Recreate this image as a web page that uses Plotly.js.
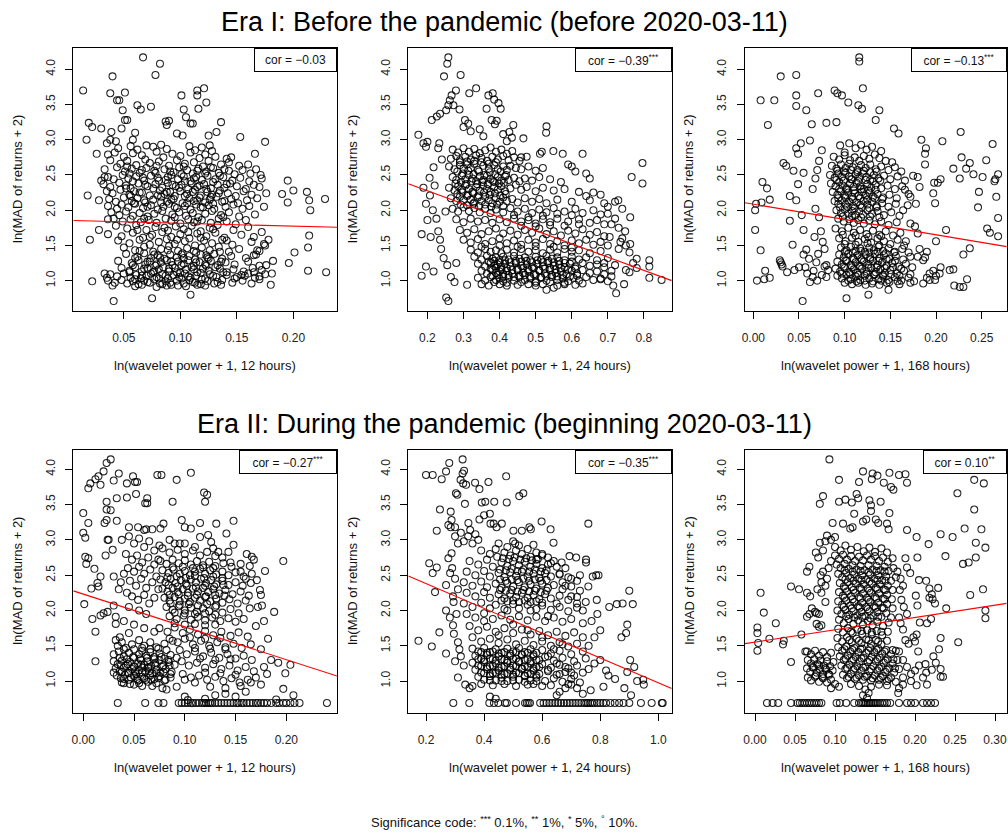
<!DOCTYPE html>
<html><head><meta charset="utf-8">
<script src="https://cdn.plot.ly/plotly-3.0.1.min.js"></script>
<style>body{margin:0;background:#fff}#chart{width:1008px;height:840px}</style>
</head><body><div id="chart"></div>
<script>
// ---------- DATA ----------
const panelTitles = ["Era I: Before the pandemic (before 2020-03-11)", "Era II: During the pandemic (beginning 2020-03-11)"];
const xTitles = ["ln(wavelet power + 1, 12 hours)", "ln(wavelet power + 1, 24 hours)", "ln(wavelet power + 1, 168 hours)",
                 "ln(wavelet power + 1, 12 hours)", "ln(wavelet power + 1, 24 hours)", "ln(wavelet power + 1, 168 hours)"];
const yTitle = "ln(MAD of returns + 2)";
const corLabels = ["cor = \u22120.03", "cor = \u22120.39<sup>***</sup>", "cor = \u22120.13<sup>***</sup>",
                   "cor = \u22120.27<sup>***</sup>", "cor = \u22120.35<sup>***</sup>", "cor = 0.10<sup>**</sup>"];
const fitIntercept = [1.855, 2.653, 2.085, 2.232, 2.731, 1.552];
const fitSlope = [-0.407, -1.885, -2.17, -4.644, -1.756, 1.743];
const xTicks = [[0.05,0.10,0.15,0.20],[0.2,0.3,0.4,0.5,0.6,0.7,0.8],[0,0.05,0.10,0.15,0.20,0.25],
                [0,0.05,0.10,0.15,0.20],[0.2,0.4,0.6,0.8,1.0],[0,0.05,0.10,0.15,0.20,0.25,0.30]];
const yTicks = [1.0,1.5,2.0,2.5,3.0,3.5,4.0];
const sigNote = "Significance code: <sup>***</sup> 0.1%, <sup>**</sup> 1%, <sup>*</sup> 5%, <sup>\u00b0</sup> 10%.";

const e1_12h = [[0.014,3.70],[0.067,4.17],[0.082,4.08],[0.040,3.90],[0.078,3.92],[0.038,3.66],[0.051,3.67],[0.044,3.56],[0.046,3.56],[0.101,3.63],[0.115,3.63],[0.121,3.73],[0.115,3.70],[0.123,3.53],[0.116,3.44],[0.103,3.43],[0.105,3.32],[0.109,3.23],[0.111,3.23],[0.062,3.49],[0.065,3.43],[0.074,3.47],[0.049,3.42],[0.017,3.00],[0.019,3.24],[0.022,3.18],[0.030,3.16],[0.039,3.11],[0.048,3.16],[0.051,3.28],[0.053,3.28],[0.087,3.26],[0.090,3.27],[0.088,3.21],[0.097,3.09],[0.102,3.06],[0.136,3.25],[0.132,3.11],[0.125,3.06],[0.126,2.92],[0.153,3.04],[0.175,2.97],[0.166,2.80],[0.190,2.23],[0.195,2.42],[0.200,2.28],[0.195,2.11],[0.212,2.26],[0.214,2.14],[0.215,2.00],[0.228,2.16],[0.214,1.64],[0.213,1.47],[0.201,1.40],[0.196,1.25],[0.213,1.14],[0.229,1.12],[0.182,1.28],[0.181,1.10],[0.180,0.94],[0.176,1.22],[0.041,0.71],[0.075,0.75],[0.109,0.80],[0.022,0.99],[0.020,1.58],[0.018,2.21],
[0.026,2.80],[0.030,2.42],[0.033,2.47],[0.028,2.14],[0.035,2.95],[0.043,2.98],[0.038,3.00],[0.058,3.00],[0.060,3.10],[0.070,2.92],[0.145,2.75],[0.160,2.65],[0.171,2.50],[0.170,2.33],[0.176,2.24],[0.174,2.05],[0.172,1.69],[0.178,1.58],[0.175,1.50],[0.170,1.42],[0.165,1.36],[0.033,1.10],[0.035,1.04],[0.028,1.72],[0.036,1.87],
[0.045,2.88],[0.056,2.91],[0.062,2.86],[0.076,2.90],[0.083,2.93],[0.088,2.87],[0.108,2.91],[0.113,2.85],[0.119,2.89],[0.128,2.84],
[0.036,2.79],[0.042,2.82],[0.050,2.76],[0.058,2.81],[0.066,2.78],[0.079,2.83],[0.085,2.75],[0.093,2.80],[0.100,2.77],[0.109,2.82],[0.117,2.74],[0.122,2.79],[0.131,2.76],[0.141,2.73],
[0.038,2.71],[0.047,2.66],[0.053,2.70],[0.061,2.64],[0.069,2.72],[0.073,2.67],[0.081,2.69],[0.090,2.63],[0.097,2.71],[0.104,2.66],[0.112,2.68],[0.120,2.62],[0.125,2.70],[0.136,2.65],[0.143,2.68],[0.152,2.63],[0.167,2.58],
[0.033,2.58],[0.044,2.61],[0.051,2.55],[0.057,2.59],[0.064,2.53],[0.070,2.60],[0.077,2.56],[0.086,2.58],[0.094,2.54],[0.099,2.61],[0.106,2.57],[0.111,2.52],[0.116,2.59],[0.123,2.55],[0.129,2.60],[0.134,2.53],[0.143,2.56],[0.148,2.51],[0.155,2.57],[0.162,2.52],
[0.036,2.47],[0.041,2.44],[0.049,2.50],[0.054,2.45],[0.061,2.48],[0.068,2.42],[0.074,2.49],[0.080,2.46],[0.087,2.43],[0.092,2.50],[0.098,2.44],[0.103,2.48],[0.109,2.41],[0.114,2.47],[0.119,2.43],[0.124,2.49],[0.131,2.44],[0.138,2.47],[0.146,2.42],[0.153,2.46],[0.161,2.41],[0.172,2.45],
[0.032,2.37],[0.038,2.33],[0.046,2.39],[0.052,2.35],[0.056,2.31],[0.063,2.38],[0.071,2.34],[0.078,2.37],[0.084,2.32],[0.089,2.39],[0.096,2.34],[0.101,2.36],[0.107,2.30],[0.110,2.38],[0.115,2.33],[0.121,2.37],[0.127,2.31],[0.133,2.36],[0.139,2.32],[0.144,2.38],[0.150,2.34],[0.158,2.30],[0.165,2.36],
[0.035,2.27],[0.040,2.24],[0.047,2.29],[0.055,2.22],[0.059,2.27],[0.066,2.25],[0.073,2.21],[0.082,2.28],[0.086,2.23],[0.091,2.26],[0.095,2.20],[0.100,2.27],[0.106,2.23],[0.113,2.29],[0.118,2.21],[0.124,2.26],[0.128,2.22],[0.135,2.28],[0.142,2.24],[0.149,2.20],[0.156,2.27],[0.163,2.22],
[0.037,2.16],[0.043,2.12],[0.050,2.18],[0.057,2.13],[0.062,2.17],[0.069,2.11],[0.076,2.15],[0.083,2.19],[0.088,2.12],[0.094,2.16],[0.102,2.10],[0.108,2.17],[0.112,2.13],[0.117,2.18],[0.122,2.11],[0.126,2.15],[0.132,2.19],[0.137,2.12],[0.145,2.16],[0.151,2.10],[0.159,2.14],[0.168,2.17],
[0.036,2.06],[0.044,2.02],[0.048,2.08],[0.054,2.04],[0.060,2.09],[0.067,2.03],[0.074,2.07],[0.080,2.01],[0.085,2.05],[0.090,2.09],[0.097,2.03],[0.104,2.06],[0.109,2.01],[0.114,2.08],[0.120,2.04],[0.125,2.07],[0.130,2.02],[0.140,2.05],[0.147,2.08],[0.155,2.02],[0.161,2.06],
[0.039,1.97],[0.046,1.93],[0.052,1.98],[0.058,1.92],[0.064,1.96],[0.071,1.91],[0.077,1.95],[0.084,1.99],[0.093,1.94],[0.099,1.97],[0.105,1.92],[0.111,1.96],[0.116,1.90],[0.122,1.95],[0.128,1.99],[0.136,1.93],[0.143,1.97],[0.152,1.91],[0.166,1.94],
[0.041,1.88],[0.049,1.84],[0.056,1.87],[0.065,1.83],[0.072,1.86],[0.079,1.82],[0.087,1.88],[0.092,1.85],[0.100,1.81],[0.107,1.87],[0.112,1.83],[0.119,1.86],[0.127,1.82],[0.134,1.88],[0.141,1.84],[0.149,1.80],[0.158,1.86],
[0.043,1.78],[0.053,1.74],[0.061,1.79],[0.070,1.72],[0.078,1.76],[0.089,1.71],[0.096,1.77],[0.103,1.73],[0.110,1.78],[0.118,1.70],[0.126,1.75],[0.133,1.79],[0.147,1.72],[0.160,1.76],
[0.036,1.66],[0.048,1.63],[0.058,1.68],[0.067,1.61],[0.075,1.65],[0.084,1.69],[0.092,1.62],[0.100,1.66],[0.108,1.60],[0.115,1.67],[0.123,1.63],[0.131,1.68],[0.139,1.61],[0.154,1.65],[0.165,1.62],
[0.045,1.57],[0.055,1.53],[0.064,1.58],[0.073,1.51],[0.081,1.55],[0.088,1.59],[0.095,1.52],[0.104,1.56],[0.113,1.50],[0.121,1.57],[0.128,1.53],[0.137,1.58],[0.146,1.51],[0.163,1.55],[0.174,1.52],
[0.050,1.47],[0.060,1.43],[0.068,1.48],[0.076,1.41],[0.083,1.45],[0.090,1.49],[0.098,1.42],[0.106,1.46],[0.114,1.40],[0.119,1.47],[0.126,1.43],[0.134,1.48],[0.143,1.41],[0.152,1.45],[0.168,1.43],
[0.052,1.38],[0.062,1.34],[0.068,1.39],[0.074,1.32],[0.080,1.36],[0.086,1.31],[0.091,1.37],[0.097,1.33],[0.102,1.39],[0.108,1.35],[0.113,1.30],[0.118,1.37],[0.124,1.33],[0.130,1.38],[0.137,1.31],[0.145,1.35],[0.158,1.32],[0.167,1.37],
[0.045,1.28],[0.057,1.25],[0.063,1.29],[0.069,1.23],[0.073,1.27],[0.078,1.21],[0.083,1.26],[0.088,1.29],[0.093,1.22],[0.098,1.27],[0.103,1.24],[0.107,1.29],[0.112,1.21],[0.117,1.26],[0.122,1.23],[0.127,1.28],[0.133,1.22],[0.140,1.26],[0.148,1.23],[0.160,1.27],[0.170,1.21],
[0.048,1.18],[0.055,1.14],[0.060,1.19],[0.066,1.13],[0.071,1.17],[0.076,1.12],[0.081,1.16],[0.085,1.19],[0.090,1.13],[0.095,1.18],[0.100,1.11],[0.105,1.16],[0.110,1.19],[0.115,1.12],[0.120,1.17],[0.125,1.14],[0.131,1.19],[0.138,1.12],[0.147,1.16],[0.156,1.13],[0.164,1.18],[0.172,1.15],
[0.038,1.09],[0.044,1.06],[0.050,1.10],[0.056,1.04],[0.061,1.08],[0.065,1.03],[0.070,1.07],[0.074,1.10],[0.079,1.05],[0.084,1.09],[0.089,1.03],[0.094,1.08],[0.099,1.05],[0.104,1.10],[0.109,1.04],[0.114,1.07],[0.119,1.02],[0.126,1.09],[0.132,1.05],[0.141,1.08],[0.148,1.03],[0.157,1.07],[0.166,1.04],[0.175,1.09],
[0.036,1.00],[0.042,0.97],[0.048,1.01],[0.053,0.96],[0.058,0.99],[0.063,0.95],[0.068,1.00],[0.073,0.97],[0.077,1.02],[0.082,0.96],[0.087,0.99],[0.092,0.94],[0.097,1.00],[0.103,0.96],[0.108,1.01],[0.113,0.97],[0.118,0.95],[0.124,0.99],[0.130,0.96],[0.137,1.01],[0.146,0.97],[0.155,1.00],[0.163,0.96],[0.170,1.02],
[0.040,0.93],[0.060,0.92],[0.079,0.91],[0.088,0.93],[0.105,0.92],[0.122,0.93],[0.136,0.94],[0.150,1.05],[0.154,1.08],[0.160,1.10],[0.165,1.12],[0.170,1.06],
[0.053,2.62],[0.066,2.57],[0.079,2.63],[0.091,2.55],[0.103,2.62],[0.115,2.56],[0.127,2.61],[0.139,2.58],
[0.055,2.52],[0.067,2.46],[0.078,2.53],[0.089,2.47],[0.101,2.51],[0.112,2.45],[0.122,2.52],[0.135,2.49],
[0.058,2.41],[0.069,2.36],[0.081,2.42],[0.093,2.36],[0.104,2.41],[0.117,2.35],[0.129,2.40],[0.141,2.37],
[0.052,2.31],[0.064,2.25],[0.076,2.31],[0.088,2.26],[0.099,2.32],[0.111,2.26],[0.123,2.30],[0.134,2.24],
[0.056,2.20],[0.068,2.14],[0.080,2.21],[0.092,2.15],[0.104,2.20],[0.115,2.14],[0.127,2.19],[0.139,2.13],
[0.059,2.10],[0.071,2.05],[0.083,2.11],[0.095,2.05],[0.106,2.10],[0.118,2.04],[0.129,2.09],
[0.064,1.42],[0.077,1.37],[0.089,1.43],[0.101,1.37],[0.112,1.42],[0.123,1.36],[0.135,1.41],
[0.060,1.32],[0.071,1.27],[0.082,1.33],[0.092,1.27],[0.103,1.32],[0.114,1.26],[0.125,1.31],[0.136,1.27],
[0.058,1.22],[0.068,1.17],[0.079,1.23],[0.090,1.17],[0.101,1.22],[0.112,1.16],[0.123,1.21],[0.135,1.17],
[0.055,1.12],[0.066,1.07],[0.077,1.13],[0.087,1.07],[0.097,1.12],[0.107,1.06],[0.118,1.11],[0.129,1.07],[0.141,1.12],
[0.060,1.02],[0.071,0.98],[0.081,1.03],[0.091,0.97],[0.101,1.03],[0.111,0.98],[0.122,1.03],[0.133,0.98],
[0.066,0.94],[0.084,0.95],[0.098,0.93],[0.115,0.94],
[0.062,1.72],[0.086,1.75],[0.107,1.69],[0.129,1.73],[0.073,1.62],[0.097,1.58],[0.118,1.61],[0.141,1.57],[0.068,1.88],[0.095,1.90],[0.115,1.84],[0.138,1.90]];

const e1_24h = [[0.258,4.17],[0.255,4.08],[0.246,3.90],[0.292,3.92],[0.279,3.70],[0.267,3.63],[0.262,3.56],[0.258,3.49],[0.272,3.49],[0.252,3.42],[0.289,3.43],[0.335,3.73],[0.316,3.66],[0.381,3.66],[0.369,3.63],[0.385,3.57],[0.397,3.52],[0.403,3.44],[0.364,3.44],[0.378,3.28],[0.392,3.27],[0.387,3.22],[0.304,3.28],[0.313,3.23],[0.212,3.28],[0.226,3.33],[0.235,3.37],[0.175,3.07],[0.189,2.95],[0.200,2.97],[0.233,2.95],[0.438,3.21],[0.427,3.11],[0.434,3.03],[0.530,3.19],[0.529,3.10],[0.466,3.02],[0.517,2.83],[0.549,2.84],[0.512,2.80],[0.630,2.80],[0.575,2.80],[0.796,2.67],[0.766,2.47],[0.796,2.38],[0.729,2.14],[0.762,1.90],[0.748,1.70],[0.762,1.52],[0.780,1.31],[0.815,1.29],[0.815,1.20],[0.849,1.01],[0.815,1.04],[0.745,0.95],[0.723,0.82],[0.715,0.93],[0.252,0.76],[0.258,0.71],[0.196,1.20],[0.184,1.07],[0.217,1.13],[0.184,1.66],[0.209,1.62],[0.200,1.86],[0.207,2.21],[0.196,2.09],[0.189,2.32],[0.206,2.46],[0.217,2.61],[0.196,2.90],
[0.230,2.88],[0.240,2.72],[0.220,2.35],[0.215,2.00],[0.225,1.88],[0.230,1.70],[0.235,1.58],[0.238,1.45],[0.245,1.32],[0.255,1.22],[0.265,1.05],[0.275,0.98],[0.280,1.25],[0.250,1.98],[0.300,3.18],[0.320,3.12],[0.345,3.15],[0.355,3.05],[0.410,3.08],[0.420,2.98],[0.460,2.75],[0.475,2.76],[0.600,2.62],[0.610,2.55],[0.590,2.65],[0.640,2.52],[0.650,2.45],[0.660,2.25],[0.680,2.22],[0.690,2.10],[0.700,1.95],[0.720,1.88],[0.730,1.75],[0.740,1.60],[0.750,1.50],[0.760,1.40],[0.730,1.45],[0.770,1.25],[0.780,1.18],[0.760,1.12],[0.700,2.05],[0.720,2.12],[0.740,2.02],[0.710,1.80],[0.735,1.55],[0.705,1.62],[0.750,1.15],[0.680,1.02],[0.700,0.99],[0.710,1.06],[0.690,1.25],[0.550,0.90],[0.530,0.87],
[0.270,2.86],[0.285,2.82],[0.300,2.88],[0.315,2.83],[0.330,2.87],[0.345,2.81],[0.360,2.85],[0.375,2.89],[0.390,2.83],[0.405,2.86],[0.420,2.80],[0.435,2.84],
[0.265,2.73],[0.280,2.77],[0.290,2.71],[0.305,2.76],[0.320,2.72],[0.335,2.78],[0.350,2.74],[0.365,2.70],[0.380,2.76],[0.395,2.72],[0.410,2.77],[0.425,2.71],[0.440,2.75],[0.455,2.70],
[0.260,2.62],[0.275,2.58],[0.290,2.64],[0.300,2.59],[0.310,2.65],[0.320,2.60],[0.330,2.66],[0.340,2.57],[0.355,2.63],[0.370,2.59],[0.385,2.64],[0.395,2.58],[0.410,2.62],[0.420,2.57],[0.430,2.63],[0.445,2.60],[0.460,2.58],[0.480,2.62],[0.500,2.56],[0.520,2.60],
[0.270,2.47],[0.280,2.43],[0.295,2.49],[0.305,2.44],[0.315,2.50],[0.325,2.45],[0.335,2.41],[0.345,2.48],[0.355,2.43],[0.365,2.49],[0.375,2.44],[0.385,2.40],[0.395,2.47],[0.405,2.42],[0.415,2.48],[0.425,2.43],[0.440,2.46],[0.455,2.41],[0.470,2.45],[0.490,2.42],[0.510,2.47],[0.540,2.44],[0.570,2.40],
[0.260,2.32],[0.275,2.28],[0.285,2.34],[0.295,2.29],[0.305,2.35],[0.315,2.30],[0.325,2.26],[0.335,2.33],[0.345,2.28],[0.355,2.35],[0.365,2.30],[0.375,2.26],[0.385,2.33],[0.395,2.29],[0.405,2.34],[0.415,2.27],[0.430,2.31],[0.445,2.36],[0.460,2.29],[0.475,2.33],[0.500,2.27],[0.520,2.32],[0.550,2.28],[0.580,2.30],[0.620,2.26],[0.640,2.20],
[0.265,2.17],[0.280,2.13],[0.290,2.19],[0.300,2.14],[0.310,2.20],[0.320,2.15],[0.330,2.11],[0.340,2.18],[0.350,2.13],[0.360,2.19],[0.370,2.14],[0.380,2.10],[0.390,2.17],[0.400,2.12],[0.410,2.18],[0.420,2.13],[0.435,2.16],[0.450,2.11],[0.470,2.17],[0.490,2.12],[0.510,2.16],[0.530,2.10],[0.560,2.15],[0.600,2.12],[0.650,2.14],
[0.270,2.02],[0.285,1.98],[0.300,2.04],[0.315,1.99],[0.330,2.03],[0.345,1.97],[0.360,2.02],[0.375,1.96],[0.390,2.01],[0.410,1.97],[0.430,2.03],[0.450,1.98],[0.470,2.02],[0.490,1.96],[0.510,2.01],[0.530,1.97],[0.550,2.03],[0.580,1.98],[0.610,2.02],[0.630,1.96],[0.660,2.00],[0.680,1.94],
[0.280,1.87],[0.300,1.83],[0.320,1.88],[0.340,1.84],[0.360,1.86],[0.380,1.82],[0.400,1.87],[0.420,1.83],[0.440,1.88],[0.460,1.84],[0.480,1.86],[0.500,1.81],[0.520,1.87],[0.540,1.83],[0.560,1.88],[0.590,1.84],[0.620,1.87],[0.650,1.82],[0.670,1.86],[0.690,1.80],
[0.290,1.72],[0.310,1.68],[0.330,1.73],[0.350,1.66],[0.370,1.70],[0.390,1.74],[0.410,1.67],[0.430,1.71],[0.450,1.65],[0.470,1.72],[0.490,1.68],[0.510,1.74],[0.530,1.66],[0.550,1.70],[0.570,1.64],[0.590,1.71],[0.610,1.67],[0.630,1.73],[0.650,1.65],[0.670,1.69],[0.690,1.63],
[0.300,1.58],[0.320,1.54],[0.340,1.59],[0.360,1.52],[0.380,1.56],[0.400,1.60],[0.420,1.53],[0.440,1.57],[0.460,1.51],[0.480,1.58],[0.500,1.54],[0.520,1.59],[0.540,1.52],[0.560,1.56],[0.580,1.50],[0.600,1.57],[0.620,1.53],[0.640,1.58],[0.660,1.51],[0.680,1.55],[0.700,1.50],
[0.320,1.44],[0.340,1.40],[0.360,1.45],[0.375,1.41],[0.390,1.43],[0.405,1.39],[0.420,1.44],[0.440,1.40],[0.460,1.45],[0.480,1.41],[0.500,1.43],[0.520,1.39],[0.540,1.44],[0.560,1.40],[0.580,1.45],[0.600,1.41],[0.620,1.43],[0.650,1.39],[0.680,1.42],
[0.330,1.34],[0.350,1.30],[0.365,1.35],[0.380,1.31],[0.390,1.33],[0.400,1.29],[0.410,1.34],[0.425,1.30],[0.440,1.35],[0.455,1.31],[0.470,1.33],[0.485,1.29],[0.500,1.34],[0.515,1.30],[0.530,1.35],[0.545,1.31],[0.560,1.33],[0.580,1.29],[0.600,1.34],[0.620,1.30],[0.640,1.33],[0.670,1.29],[0.700,1.32],
[0.340,1.24],[0.360,1.20],[0.375,1.25],[0.385,1.21],[0.395,1.23],[0.405,1.19],[0.415,1.24],[0.430,1.20],[0.445,1.25],[0.460,1.21],[0.475,1.23],[0.490,1.19],[0.505,1.24],[0.520,1.20],[0.535,1.25],[0.550,1.21],[0.565,1.23],[0.580,1.19],[0.595,1.24],[0.610,1.20],[0.630,1.25],[0.650,1.21],[0.670,1.23],[0.690,1.19],[0.720,1.22],
[0.350,1.14],[0.365,1.10],[0.380,1.15],[0.390,1.11],[0.400,1.13],[0.410,1.09],[0.420,1.14],[0.435,1.10],[0.450,1.15],[0.465,1.11],[0.480,1.13],[0.495,1.09],[0.510,1.14],[0.525,1.10],[0.540,1.15],[0.555,1.11],[0.570,1.13],[0.585,1.09],[0.600,1.14],[0.615,1.10],[0.630,1.15],[0.650,1.11],[0.670,1.13],[0.690,1.09],[0.710,1.14],
[0.340,1.04],[0.360,1.00],[0.375,1.05],[0.390,1.01],[0.400,1.03],[0.410,0.99],[0.425,1.04],[0.440,1.00],[0.455,1.05],[0.470,1.01],[0.485,1.03],[0.500,0.99],[0.515,1.04],[0.530,1.00],[0.545,1.05],[0.560,1.01],[0.575,1.03],[0.590,0.99],[0.605,1.04],[0.620,1.00],[0.640,1.05],[0.660,1.01],[0.680,1.03],
[0.310,0.94],[0.350,0.95],[0.370,0.93],[0.400,0.95],[0.420,0.93],[0.450,0.94],[0.480,0.95],[0.500,0.93],[0.520,0.95],[0.560,0.93],[0.580,0.95],[0.610,0.94],[0.630,0.96],
[0.283,2.55],[0.298,2.52],[0.313,2.56],[0.328,2.51],[0.343,2.55],[0.358,2.50],[0.373,2.54],[0.388,2.51],[0.403,2.55],[0.418,2.50],
[0.278,2.38],[0.293,2.40],[0.308,2.37],[0.322,2.41],[0.338,2.37],[0.352,2.40],[0.368,2.37],[0.382,2.41],[0.398,2.38],[0.412,2.39],
[0.283,2.23],[0.297,2.25],[0.312,2.22],[0.327,2.24],[0.342,2.21],[0.357,2.25],[0.372,2.22],[0.387,2.24],[0.402,2.21],[0.417,2.23],
[0.292,2.08],[0.310,2.07],[0.327,2.09],[0.343,2.06],[0.360,2.08],[0.377,2.05],[0.393,2.08],[0.410,2.06],
[0.290,2.68],[0.310,2.69],[0.330,2.70],[0.350,2.68],[0.370,2.66],[0.390,2.68],
[0.370,1.27],[0.385,1.28],[0.400,1.26],[0.415,1.29],[0.430,1.26],[0.445,1.28],[0.460,1.27],[0.475,1.28],[0.490,1.26],[0.505,1.29],[0.520,1.26],[0.535,1.28],[0.550,1.26],[0.565,1.28],[0.580,1.25],[0.600,1.27],
[0.375,1.17],[0.390,1.18],[0.405,1.16],[0.420,1.18],[0.435,1.15],[0.450,1.17],[0.465,1.18],[0.480,1.16],[0.495,1.18],[0.510,1.15],[0.525,1.17],[0.540,1.18],[0.555,1.16],[0.570,1.18],[0.590,1.16],[0.610,1.17],
[0.380,1.07],[0.395,1.08],[0.410,1.06],[0.425,1.08],[0.440,1.05],[0.455,1.07],[0.470,1.08],[0.485,1.06],[0.500,1.08],[0.515,1.05],[0.530,1.07],[0.545,1.08],[0.560,1.06],[0.575,1.08],[0.595,1.06],[0.615,1.07],
[0.385,0.98],[0.420,0.97],[0.460,0.98],[0.500,0.97],[0.540,0.98],[0.580,0.97],
[0.440,1.93],[0.480,1.90],[0.520,1.92],[0.560,1.95],[0.600,1.93],[0.460,1.78],[0.500,1.77],[0.540,1.79],[0.580,1.78],[0.620,1.80],[0.350,1.48],[0.400,1.50],[0.450,1.48],[0.500,1.49],[0.550,1.48],[0.600,1.47]];

const e1_168h = [[0.116,4.17],[0.116,4.11],[0.030,3.90],[0.047,3.92],[0.008,3.56],[0.023,3.56],[0.047,3.63],[0.047,3.48],[0.058,3.42],[0.071,3.66],[0.089,3.70],[0.092,3.66],[0.097,3.63],[0.104,3.53],[0.115,3.49],[0.120,3.73],[0.119,3.44],[0.138,3.42],[0.134,3.28],[0.016,3.21],[0.064,3.22],[0.080,3.24],[0.091,3.25],[0.154,3.16],[0.159,3.09],[0.062,2.99],[0.052,2.95],[0.184,3.00],[0.207,2.98],[0.227,3.11],[0.189,2.88],[0.188,2.80],[0.188,2.65],[0.228,2.75],[0.219,2.59],[0.233,2.59],[0.237,2.67],[0.241,2.51],[0.255,2.71],[0.251,2.47],[0.262,2.94],[0.264,2.41],[0.265,2.44],[0.268,2.51],[0.266,2.19],[0.268,1.89],[0.268,1.63],[0.259,1.68],[0.256,1.74],[0.247,2.26],[0.246,2.04],[0.226,2.45],[0.230,1.37],[0.237,1.46],[0.234,1.02],[0.230,0.91],[0.226,0.91],[0.220,0.93],[0.211,1.72],[0.200,1.56],[0.215,1.15],[0.219,1.16],[0.205,2.44],[0.198,2.39],[0.197,2.24],[0.199,2.10],[0.202,2.39],
[0.002,2.00],[0.003,2.09],[0.009,2.11],[0.002,1.72],[0.008,1.43],[0.004,1.00],[0.012,1.02],[0.018,1.04],[0.013,1.14],[0.010,2.40],[0.015,2.31],[0.018,2.15],[0.033,2.67],[0.036,2.63],[0.044,2.56],[0.040,2.20],[0.047,2.14],[0.049,2.37],[0.047,2.88],[0.049,2.80],[0.053,1.93],[0.040,1.85],[0.043,1.51],[0.055,1.72],[0.058,1.44],[0.055,2.53],[0.055,1.37],
[0.054,0.71],[0.102,0.75],[0.126,0.80],[0.148,0.87],
[0.029,1.29],[0.031,1.23],[0.037,1.12],[0.045,1.15],[0.050,1.19],[0.057,1.19],[0.059,1.10],[0.062,0.98],[0.066,1.14],[0.069,1.26],[0.071,1.38],[0.061,1.31],[0.030,1.26],[0.032,1.20],[0.065,1.05],[0.070,1.00],[0.075,1.08],[0.078,1.20],
[0.193,1.10],[0.197,1.14],[0.200,1.07],[0.204,1.10],[0.199,1.01],[0.193,1.01],[0.190,1.04],[0.205,1.19],[0.186,0.96],
[0.166,2.29],[0.170,2.23],[0.172,2.19],[0.175,2.49],[0.180,2.47],[0.182,2.33],[0.178,2.09],[0.169,2.07],[0.164,2.00],[0.172,1.81],[0.177,1.77],[0.180,1.67],[0.182,1.45],[0.180,1.34],[0.186,1.29],[0.188,1.33],[0.190,1.41],[0.167,1.56],
[0.065,2.30],[0.068,2.45],[0.070,2.57],[0.072,2.70],[0.075,2.85],[0.068,2.02],[0.072,1.90],[0.067,1.62],[0.074,1.70],[0.076,1.55],[0.078,1.45],[0.080,1.22],[0.082,1.15],[0.080,1.05],
[0.095,2.92],[0.105,2.95],[0.112,2.88],[0.118,2.93],[0.124,2.86],[0.130,2.90],[0.140,2.84],[0.100,2.82],
[0.088,2.76],[0.094,2.72],[0.100,2.78],[0.106,2.71],[0.111,2.75],[0.116,2.70],[0.121,2.77],[0.127,2.73],[0.133,2.79],[0.138,2.74],[0.145,2.70],[0.152,2.68],
[0.086,2.63],[0.091,2.59],[0.096,2.65],[0.101,2.60],[0.105,2.66],[0.109,2.61],[0.114,2.57],[0.118,2.64],[0.123,2.60],[0.128,2.65],[0.134,2.58],[0.140,2.62],[0.148,2.57],[0.155,2.61],[0.162,2.55],
[0.084,2.50],[0.089,2.46],[0.093,2.52],[0.097,2.47],[0.101,2.53],[0.105,2.48],[0.108,2.44],[0.112,2.51],[0.116,2.46],[0.120,2.52],[0.124,2.47],[0.128,2.43],[0.132,2.50],[0.137,2.45],[0.143,2.49],[0.150,2.44],[0.158,2.48],[0.166,2.42],
[0.085,2.38],[0.090,2.34],[0.094,2.40],[0.098,2.35],[0.102,2.31],[0.106,2.38],[0.110,2.33],[0.113,2.39],[0.117,2.34],[0.121,2.30],[0.125,2.37],[0.129,2.32],[0.134,2.36],[0.140,2.31],[0.147,2.35],[0.155,2.30],[0.163,2.34],
[0.087,2.26],[0.092,2.22],[0.096,2.27],[0.100,2.21],[0.104,2.25],[0.108,2.19],[0.111,2.24],[0.115,2.20],[0.119,2.26],[0.123,2.21],[0.127,2.25],[0.131,2.19],[0.136,2.23],[0.142,2.18],[0.149,2.22],[0.157,2.17],
[0.089,2.13],[0.093,2.09],[0.097,2.14],[0.101,2.08],[0.105,2.12],[0.109,2.06],[0.113,2.11],[0.117,2.07],[0.121,2.13],[0.125,2.08],[0.130,2.12],[0.135,2.06],[0.141,2.10],[0.148,2.05],[0.156,2.09],
[0.091,2.00],[0.096,1.96],[0.100,2.01],[0.104,1.95],[0.108,1.99],[0.112,1.93],[0.116,1.98],[0.120,1.94],[0.125,2.00],[0.130,1.95],[0.136,1.99],[0.143,1.93],[0.151,1.97],[0.160,1.92],
[0.093,1.88],[0.099,1.84],[0.105,1.87],[0.110,1.82],[0.115,1.86],[0.121,1.81],[0.127,1.85],[0.133,1.80],[0.140,1.84],[0.148,1.79],[0.157,1.83],
[0.090,1.74],[0.097,1.70],[0.104,1.75],[0.110,1.68],[0.117,1.72],[0.124,1.66],[0.131,1.71],[0.138,1.65],[0.145,1.70],[0.153,1.64],[0.161,1.68],
[0.094,1.60],[0.101,1.56],[0.108,1.61],[0.115,1.55],[0.122,1.59],[0.129,1.54],[0.136,1.60],[0.143,1.56],[0.150,1.52],[0.158,1.58],[0.165,1.50],
[0.096,1.47],[0.102,1.43],[0.107,1.48],[0.112,1.42],[0.117,1.46],[0.122,1.41],[0.127,1.47],[0.132,1.43],[0.137,1.48],[0.142,1.42],[0.148,1.46],[0.155,1.41],[0.163,1.45],[0.170,1.40],
[0.094,1.37],[0.099,1.33],[0.104,1.38],[0.109,1.32],[0.114,1.36],[0.118,1.31],[0.123,1.37],[0.128,1.33],[0.133,1.38],[0.138,1.32],[0.143,1.36],[0.149,1.31],[0.156,1.35],[0.164,1.30],[0.172,1.34],
[0.092,1.27],[0.097,1.23],[0.102,1.28],[0.107,1.22],[0.112,1.26],[0.116,1.21],[0.121,1.27],[0.126,1.23],[0.131,1.28],[0.136,1.22],[0.141,1.26],[0.146,1.21],[0.152,1.25],[0.159,1.20],[0.167,1.24],[0.174,1.19],
[0.090,1.17],[0.095,1.13],[0.100,1.18],[0.105,1.12],[0.110,1.16],[0.114,1.11],[0.119,1.17],[0.124,1.13],[0.129,1.18],[0.134,1.12],[0.139,1.16],[0.144,1.11],[0.150,1.15],[0.157,1.10],[0.165,1.14],[0.172,1.09],
[0.092,1.07],[0.097,1.03],[0.102,1.08],[0.107,1.02],[0.112,1.06],[0.117,1.01],[0.122,1.07],[0.127,1.03],[0.132,1.08],[0.137,1.02],[0.142,1.06],[0.148,1.01],[0.155,1.05],[0.162,1.00],[0.170,1.04],[0.176,0.99],
[0.100,0.97],[0.108,0.95],[0.115,0.97],[0.123,0.94],[0.130,0.96],[0.138,0.94],[0.146,0.97],[0.160,0.95],[0.172,0.97],
[0.092,2.56],[0.099,2.55],[0.107,2.57],[0.114,2.54],[0.121,2.56],[0.128,2.54],[0.135,2.55],
[0.091,2.43],[0.099,2.42],[0.107,2.44],[0.115,2.41],[0.123,2.43],[0.131,2.41],[0.139,2.42],
[0.094,2.30],[0.102,2.29],[0.110,2.28],[0.118,2.30],[0.126,2.28],[0.134,2.29],
[0.093,2.17],[0.101,2.18],[0.109,2.16],[0.117,2.17],[0.125,2.15],[0.133,2.17],[0.141,2.16],
[0.095,2.04],[0.103,2.05],[0.111,2.03],[0.119,2.04],[0.127,2.03],[0.135,2.04],
[0.098,1.91],[0.108,1.92],[0.118,1.90],[0.128,1.91],[0.138,1.90],
[0.100,1.41],[0.109,1.40],[0.118,1.42],[0.127,1.40],[0.136,1.41],[0.145,1.39],[0.154,1.40],
[0.101,1.29],[0.110,1.30],[0.119,1.29],[0.128,1.30],[0.137,1.28],[0.146,1.30],[0.155,1.28],
[0.099,1.20],[0.108,1.19],[0.117,1.20],[0.126,1.18],[0.135,1.19],[0.144,1.18],[0.153,1.19],[0.162,1.17],
[0.097,1.10],[0.106,1.09],[0.115,1.08],[0.124,1.10],[0.133,1.09],[0.142,1.08],[0.151,1.09],[0.160,1.07],
[0.104,1.00],[0.113,0.99],[0.122,1.00],[0.131,0.99],[0.140,1.00],[0.149,0.98],[0.158,0.99],
[0.100,1.52],[0.112,1.51],[0.125,1.53],[0.138,1.50],[0.098,1.65],[0.112,1.64],[0.126,1.62],[0.140,1.63]];

const e2_12h = [[0.027,4.14],[0.023,4.09],[0.020,3.97],[0.015,3.90],[0.012,3.86],[0.007,3.80],[0.005,3.73],[0.017,3.78],[0.035,3.94],[0.030,3.84],[0.043,3.80],[0.049,3.90],[0.051,3.82],[0.053,3.82],[0.052,3.65],[0.043,3.60],[0.033,3.59],[0.023,3.54],[0.063,3.59],[0.061,3.52],[0.063,3.52],[0.073,3.92],[0.077,3.92],[0.092,3.85],[0.106,3.95],[0.088,3.54],[0.119,3.67],[0.120,3.54],[0.122,3.64],[0.000,3.38],[0.005,3.24],[0.000,3.10],[0.002,3.03],[0.023,3.43],[0.027,3.42],[0.021,3.24],[0.023,3.28],[0.033,3.27],[0.045,3.18],[0.054,3.18],[0.060,3.14],[0.062,3.15],[0.068,3.15],[0.076,3.16],[0.079,3.23],[0.097,3.28],[0.100,3.18],[0.106,3.16],[0.115,3.24],[0.131,3.23],[0.148,3.27],[0.141,3.09],[0.123,3.07],[0.126,2.97],[0.115,3.04],[0.128,2.88],[0.148,2.93],[0.133,2.83],[0.143,2.83],[0.197,2.70],[0.161,2.80],[0.166,2.76],[0.168,2.72],[0.164,2.63],[0.179,2.56],[0.171,2.43],[0.174,2.29],[0.188,1.98],[0.176,2.07],[0.164,2.03],[0.204,1.23],[0.192,1.26],[0.199,1.11],[0.181,1.10],[0.197,0.89],[0.207,0.80],[0.190,0.74],
[0.002,2.76],[0.005,2.74],[0.003,2.66],[0.001,2.09],[0.009,1.88],[0.012,1.70],[0.012,1.28],[0.011,2.59],[0.008,2.31],[0.014,2.39],[0.015,2.34],[0.017,2.48],[0.022,2.78],[0.024,3.00],[0.025,3.00],[0.029,2.86],[0.017,1.93],[0.020,1.96],[0.024,1.98],[0.030,2.07],[0.032,1.91],[0.032,1.81],[0.030,2.48],[0.035,2.30],[0.037,2.40],[0.040,2.52],[0.043,2.25],
[0.085,3.00],[0.090,2.95],[0.095,2.95],[0.100,2.95],[0.110,2.90],[0.137,2.75],[0.145,2.68],[0.155,2.55],[0.160,2.45],[0.175,2.22],[0.172,2.05],[0.178,1.85],[0.170,1.78],[0.182,1.60],[0.175,1.45],[0.185,1.30],[0.178,1.20],[0.170,1.05],[0.175,0.95],[0.165,0.98],[0.160,0.85],[0.150,0.78],[0.140,0.82],[0.130,0.80],[0.120,0.75],[0.100,0.78],[0.103,0.73],[0.092,0.92],[0.082,0.88],[0.078,0.90],[0.068,0.93],[0.058,0.93],[0.050,0.95],[0.040,0.97],[0.030,1.12],
[0.034,0.69],[0.061,0.69],[0.074,0.69],[0.079,0.69],[0.094,0.69],[0.097,0.69],[0.100,0.69],[0.103,0.69],[0.106,0.69],[0.108,0.69],[0.111,0.69],[0.114,0.69],[0.117,0.69],[0.119,0.69],[0.121,0.69],[0.123,0.69],[0.125,0.69],[0.127,0.69],[0.130,0.69],[0.133,0.69],[0.136,0.69],[0.139,0.69],[0.142,0.69],[0.145,0.69],[0.148,0.69],[0.151,0.69],[0.153,0.69],[0.156,0.69],[0.158,0.69],[0.161,0.69],[0.164,0.69],[0.167,0.69],[0.170,0.69],[0.172,0.69],[0.175,0.69],[0.178,0.69],[0.181,0.69],[0.185,0.69],[0.190,0.69],[0.193,0.69],[0.197,0.69],[0.200,0.69],[0.204,0.69],[0.208,0.69],[0.213,0.69],[0.240,0.69],
[0.032,1.58],[0.036,1.62],[0.038,1.55],[0.034,1.50],[0.040,1.45],[0.048,1.52],[0.055,1.58],[0.060,1.50],[0.066,1.55],[0.072,1.48],[0.080,1.53],[0.088,1.57],
[0.030,1.38],[0.035,1.42],[0.040,1.35],[0.045,1.40],[0.050,1.33],[0.055,1.38],[0.058,1.43],[0.062,1.36],[0.066,1.41],[0.070,1.34],[0.075,1.39],[0.080,1.32],[0.086,1.37],[0.092,1.33],
[0.030,1.28],[0.034,1.24],[0.038,1.29],[0.042,1.22],[0.046,1.27],[0.050,1.20],[0.054,1.25],[0.057,1.30],[0.060,1.23],[0.063,1.28],[0.067,1.21],[0.071,1.26],[0.075,1.30],[0.079,1.22],[0.084,1.27],[0.090,1.23],
[0.032,1.18],[0.036,1.14],[0.040,1.19],[0.044,1.12],[0.048,1.17],[0.052,1.10],[0.055,1.15],[0.058,1.19],[0.061,1.13],[0.064,1.18],[0.068,1.11],[0.072,1.16],[0.076,1.12],[0.081,1.17],[0.087,1.13],
[0.033,1.08],[0.037,1.04],[0.041,1.09],[0.045,1.02],[0.050,1.07],[0.054,1.01],[0.058,1.06],[0.062,1.02],[0.066,1.08],[0.070,1.03],[0.075,1.07],[0.080,1.01],[0.086,1.05],
[0.038,0.98],[0.046,0.96],[0.055,0.97],[0.064,0.99],[0.072,0.97],
[0.038,3.00],[0.045,3.05],[0.050,2.95],[0.055,3.02],[0.060,2.90],[0.065,2.98],[0.070,2.85],[0.075,2.92],
[0.042,2.80],[0.048,2.72],[0.053,2.78],[0.058,2.68],[0.064,2.75],[0.070,2.65],[0.074,2.72],
[0.044,2.60],[0.050,2.55],[0.055,2.62],[0.060,2.52],[0.066,2.58],[0.072,2.48],
[0.046,2.42],[0.052,2.35],[0.057,2.45],[0.062,2.32],[0.068,2.40],[0.074,2.30],
[0.048,2.20],[0.054,2.15],[0.060,2.22],[0.065,2.10],[0.070,2.18],[0.045,2.05],[0.055,2.00],[0.062,1.95],[0.040,1.85],[0.050,1.80],[0.060,1.75],[0.070,1.70],[0.045,1.68],
[0.078,2.88],[0.085,2.82],[0.093,2.86],[0.100,2.80],[0.108,2.85],[0.115,2.78],[0.122,2.83],[0.130,2.77],
[0.076,2.70],[0.082,2.66],[0.088,2.72],[0.094,2.67],[0.100,2.71],[0.106,2.65],[0.112,2.70],[0.118,2.64],[0.124,2.69],[0.130,2.63],[0.138,2.67],[0.146,2.62],[0.155,2.66],
[0.078,2.57],[0.084,2.53],[0.089,2.58],[0.095,2.52],[0.100,2.56],[0.105,2.50],[0.110,2.55],[0.115,2.59],[0.120,2.52],[0.125,2.57],[0.131,2.51],[0.137,2.55],[0.143,2.50],[0.150,2.54],[0.158,2.48],[0.166,2.52],
[0.076,2.44],[0.081,2.40],[0.086,2.45],[0.091,2.39],[0.096,2.43],[0.101,2.38],[0.106,2.44],[0.111,2.40],[0.116,2.45],[0.121,2.39],[0.126,2.43],[0.131,2.37],[0.137,2.42],[0.143,2.36],[0.150,2.40],[0.157,2.35],[0.165,2.39],
[0.078,2.31],[0.083,2.27],[0.088,2.32],[0.093,2.26],[0.098,2.30],[0.103,2.25],[0.108,2.31],[0.113,2.27],[0.118,2.32],[0.123,2.26],[0.128,2.30],[0.134,2.24],[0.140,2.29],[0.147,2.23],[0.155,2.27],[0.163,2.21],
[0.080,2.18],[0.085,2.14],[0.090,2.19],[0.095,2.13],[0.100,2.17],[0.105,2.12],[0.110,2.18],[0.115,2.14],[0.120,2.19],[0.125,2.13],[0.131,2.17],[0.137,2.11],[0.144,2.16],[0.152,2.10],[0.160,2.14],
[0.082,2.05],[0.088,2.01],[0.094,2.06],[0.100,2.00],[0.106,2.04],[0.112,1.98],[0.118,2.03],[0.124,1.99],[0.130,2.05],[0.137,1.97],[0.145,2.02],[0.153,1.96],
[0.085,1.92],[0.092,1.88],[0.099,1.93],[0.106,1.87],[0.113,1.91],[0.120,1.86],[0.127,1.90],[0.135,1.85],[0.143,1.89],[0.150,1.84],[0.158,1.88],
[0.075,1.75],[0.083,1.70],[0.090,1.76],[0.098,1.68],[0.105,1.73],[0.113,1.66],[0.120,1.71],[0.128,1.65],[0.136,1.70],[0.145,1.64],[0.153,1.69],[0.162,1.63],
[0.085,1.60],[0.093,1.55],[0.100,1.60],[0.108,1.52],[0.116,1.57],[0.124,1.50],[0.132,1.55],[0.140,1.48],[0.148,1.53],[0.156,1.47],[0.165,1.52],
[0.095,1.44],[0.102,1.38],[0.110,1.42],[0.118,1.35],[0.126,1.40],[0.134,1.33],[0.142,1.38],[0.150,1.32],[0.158,1.36],[0.166,1.30],
[0.097,1.28],[0.104,1.22],[0.112,1.26],[0.120,1.19],[0.128,1.24],[0.136,1.17],[0.144,1.22],[0.152,1.15],[0.160,1.20],[0.168,1.14],
[0.098,1.10],[0.106,1.05],[0.114,1.08],[0.122,1.02],[0.130,1.06],[0.138,1.00],[0.146,1.04],[0.154,0.98],[0.162,1.02],[0.100,1.02],[0.110,0.98],[0.125,0.92],[0.140,0.90],[0.155,0.93],
[0.036,1.33],[0.043,1.31],[0.049,1.34],[0.056,1.32],[0.063,1.33],[0.070,1.31],[0.077,1.34],[0.084,1.30],
[0.037,1.22],[0.044,1.24],[0.050,1.21],[0.057,1.23],[0.064,1.20],[0.071,1.23],[0.078,1.20],[0.085,1.22],
[0.038,1.13],[0.045,1.11],[0.051,1.14],[0.058,1.12],[0.065,1.14],[0.072,1.11],[0.079,1.13],[0.086,1.10],
[0.040,1.03],[0.047,1.05],[0.053,1.03],[0.060,1.04],[0.067,1.02],[0.074,1.04],[0.081,1.02],
[0.042,1.47],[0.050,1.45],[0.058,1.47],[0.066,1.45],[0.074,1.46],[0.082,1.44],
[0.083,2.47],[0.092,2.48],[0.101,2.46],[0.110,2.49],[0.119,2.46],[0.128,2.48],[0.137,2.46],
[0.084,2.36],[0.093,2.34],[0.102,2.35],[0.111,2.33],[0.120,2.35],[0.129,2.34],[0.138,2.36],
[0.085,2.22],[0.094,2.23],[0.103,2.21],[0.112,2.22],[0.121,2.20],[0.130,2.22],[0.139,2.21],
[0.086,2.10],[0.095,2.08],[0.104,2.09],[0.113,2.07],[0.122,2.09],[0.131,2.07],
[0.090,1.97],[0.100,1.96],[0.110,1.95],[0.120,1.96],[0.130,1.94],
[0.088,2.61],[0.098,2.62],[0.108,2.60],[0.118,2.61],[0.128,2.60],[0.090,1.82],[0.100,1.80],[0.110,1.81],[0.120,1.79],[0.130,1.80],
[0.105,1.62],[0.120,1.60],[0.135,1.61],[0.110,1.47],[0.125,1.46],[0.140,1.45],[0.115,1.32],[0.130,1.30],[0.145,1.31],[0.120,1.12],[0.135,1.11],[0.150,1.09]];

const e2_24h = [[0.326,4.14],[0.280,4.09],[0.200,3.92],[0.223,3.92],[0.269,3.97],[0.254,3.86],[0.331,3.98],[0.326,3.94],[0.319,3.85],[0.328,3.80],[0.338,3.78],[0.369,3.81],[0.415,3.82],[0.476,3.90],[0.384,3.72],[0.435,3.54],[0.404,3.54],[0.392,3.53],[0.478,3.53],[0.521,3.62],[0.535,3.66],[0.308,3.64],[0.303,3.66],[0.334,3.51],[0.248,3.43],[0.285,3.40],[0.288,3.28],[0.277,3.21],[0.285,3.18],[0.300,3.18],[0.237,3.13],[0.346,3.24],[0.352,3.14],[0.384,3.29],[0.400,3.35],[0.420,3.37],[0.422,3.23],[0.433,3.23],[0.443,3.18],[0.461,3.23],[0.501,3.13],[0.530,3.13],[0.556,3.18],[0.561,3.15],[0.598,3.26],[0.629,3.15],[0.639,2.96],[0.507,2.95],[0.759,3.23],[0.667,2.68],[0.694,2.77],[0.717,2.75],[0.751,2.72],[0.751,2.68],[0.730,2.50],[0.774,2.48],[0.786,2.50],[0.794,2.50],[0.759,2.34],[0.788,2.15],[0.831,2.05],[0.857,2.09],[0.877,2.10],[0.912,2.09],[0.900,2.28],[0.893,1.80],[0.889,1.68],[0.873,1.62],[0.903,1.30],[0.917,1.20],[0.893,1.13],[0.828,1.08],[0.851,1.03],[0.927,1.00],[0.948,1.02],[0.950,0.95],[0.883,0.90],[0.906,0.80],[0.811,0.92],[0.767,0.87],
[0.174,1.57],[0.220,1.49],[0.223,2.53],[0.211,2.67],[0.237,2.61],[0.231,2.26],[0.269,1.39],[0.246,1.69],[0.269,2.00],[0.282,1.90],[0.293,1.79],[0.296,1.67],[0.283,2.53],[0.269,2.36],[0.293,2.20],[0.277,2.74],[0.288,2.81],
[0.300,3.05],[0.310,2.95],[0.320,3.10],[0.330,2.98],[0.345,3.05],[0.360,2.95],[0.370,3.08],[0.380,3.00],[0.290,2.60],[0.300,2.45],[0.310,2.30],[0.295,2.12],[0.305,1.95],[0.310,1.55],[0.315,1.45],[0.320,1.35],[0.300,1.28],[0.330,1.22],[0.310,1.05],[0.335,0.95],[0.350,0.90],[0.360,0.93],[0.700,0.95],[0.720,0.90],[0.740,0.82],[0.650,0.80],[0.660,0.85],[0.680,0.90],[0.600,0.93],[0.550,0.95],[0.420,0.78],[0.440,0.75],[0.780,1.25],[0.800,1.30],[0.820,1.15],[0.760,1.50],[0.780,1.62],[0.800,1.72],[0.770,1.85],[0.790,1.95],[0.740,2.00],[0.720,2.10],[0.700,2.20],[0.680,2.35],[0.700,2.45],[0.660,2.52],[0.620,2.65],[0.600,2.78],[0.580,2.82],
[0.294,0.69],[0.349,0.69],[0.418,0.69],[0.434,0.69],[0.449,0.69],[0.472,0.69],[0.478,0.69],[0.510,0.69],[0.541,0.69],[0.547,0.69],[0.553,0.69],[0.558,0.69],[0.593,0.69],[0.605,0.69],[0.615,0.69],[0.625,0.69],[0.635,0.69],[0.645,0.69],[0.655,0.69],[0.665,0.69],[0.675,0.69],[0.685,0.69],[0.695,0.69],[0.705,0.69],[0.715,0.69],[0.725,0.69],[0.735,0.69],[0.745,0.69],[0.752,0.69],[0.758,0.69],[0.765,0.69],[0.772,0.69],[0.780,0.69],[0.790,0.69],[0.800,0.69],[0.810,0.69],[0.820,0.69],[0.835,0.69],[0.850,0.69],[0.865,0.69],[0.880,0.69],[0.900,0.69],[0.940,0.69],[0.977,0.69],[1.012,0.69],[1.015,0.69],
[0.450,2.95],[0.480,2.90],[0.500,2.98],[0.520,2.92],[0.550,2.87],[0.570,2.93],
[0.390,2.85],[0.420,2.80],[0.440,2.87],[0.470,2.82],[0.490,2.78],[0.510,2.85],[0.530,2.80],[0.560,2.76],[0.580,2.72],[0.600,2.80],[0.620,2.75],
[0.350,2.70],[0.380,2.65],[0.410,2.72],[0.430,2.62],[0.460,2.68],[0.480,2.63],[0.500,2.70],[0.520,2.64],[0.540,2.69],[0.560,2.62],[0.580,2.66],[0.600,2.60],[0.630,2.67],[0.650,2.62],[0.680,2.60],
[0.340,2.55],[0.370,2.50],[0.400,2.56],[0.420,2.48],[0.450,2.53],[0.470,2.47],[0.490,2.54],[0.510,2.49],[0.530,2.55],[0.550,2.48],[0.570,2.52],[0.590,2.46],[0.610,2.53],[0.630,2.48],[0.660,2.51],[0.690,2.47],[0.720,2.42],
[0.330,2.40],[0.360,2.35],[0.390,2.41],[0.410,2.33],[0.440,2.38],[0.460,2.32],[0.480,2.39],[0.500,2.34],[0.520,2.40],[0.540,2.33],[0.560,2.37],[0.580,2.31],[0.600,2.38],[0.620,2.32],[0.640,2.36],[0.670,2.30],[0.700,2.34],[0.730,2.28],
[0.340,2.25],[0.370,2.20],[0.400,2.26],[0.420,2.18],[0.450,2.23],[0.470,2.17],[0.490,2.24],[0.510,2.19],[0.530,2.25],[0.550,2.18],[0.570,2.22],[0.590,2.16],[0.610,2.23],[0.630,2.17],[0.660,2.21],[0.690,2.15],[0.720,2.19],[0.750,2.12],
[0.330,2.10],[0.360,2.05],[0.390,2.11],[0.420,2.03],[0.440,2.08],[0.470,2.02],[0.500,2.09],[0.520,2.03],[0.550,2.08],[0.580,2.02],[0.600,2.07],[0.630,2.01],[0.660,2.05],[0.690,1.99],[0.720,2.04],
[0.340,1.95],[0.370,1.90],[0.400,1.96],[0.430,1.88],[0.460,1.93],[0.490,1.87],[0.520,1.92],[0.550,1.86],[0.580,1.91],[0.610,1.85],[0.640,1.90],[0.670,1.84],[0.700,1.88],[0.740,1.82],
[0.350,1.78],[0.380,1.72],[0.410,1.77],[0.440,1.70],[0.470,1.75],[0.500,1.68],[0.530,1.73],[0.560,1.66],[0.590,1.71],[0.620,1.65],[0.650,1.70],[0.680,1.64],[0.710,1.69],[0.740,1.62],
[0.360,1.62],[0.390,1.56],[0.420,1.60],[0.450,1.54],[0.480,1.59],[0.510,1.52],[0.540,1.57],[0.570,1.51],[0.600,1.56],[0.630,1.50],[0.660,1.55],[0.690,1.49],[0.720,1.53],
[0.360,1.46],[0.380,1.42],[0.400,1.47],[0.420,1.41],[0.440,1.45],[0.460,1.40],[0.480,1.46],[0.500,1.42],[0.520,1.47],[0.540,1.41],[0.560,1.45],[0.580,1.40],[0.600,1.44],[0.630,1.39],[0.660,1.43],[0.700,1.38],[0.740,1.42],
[0.370,1.36],[0.390,1.32],[0.410,1.37],[0.430,1.31],[0.450,1.35],[0.470,1.30],[0.490,1.36],[0.510,1.32],[0.530,1.37],[0.550,1.31],[0.570,1.35],[0.590,1.30],[0.610,1.34],[0.640,1.29],[0.670,1.33],[0.710,1.28],[0.750,1.32],
[0.360,1.26],[0.380,1.22],[0.400,1.27],[0.420,1.21],[0.440,1.25],[0.460,1.20],[0.480,1.26],[0.500,1.22],[0.520,1.27],[0.540,1.21],[0.560,1.25],[0.580,1.20],[0.600,1.24],[0.630,1.19],[0.660,1.23],[0.690,1.18],[0.720,1.22],[0.760,1.17],
[0.370,1.16],[0.390,1.12],[0.410,1.17],[0.430,1.11],[0.450,1.15],[0.470,1.10],[0.490,1.16],[0.510,1.12],[0.530,1.17],[0.550,1.11],[0.570,1.15],[0.590,1.10],[0.620,1.14],[0.650,1.09],[0.680,1.13],[0.710,1.08],[0.740,1.12],
[0.380,1.06],[0.400,1.02],[0.420,1.07],[0.440,1.01],[0.460,1.05],[0.480,1.00],[0.500,1.06],[0.520,1.02],[0.540,1.07],[0.560,1.01],[0.580,1.05],[0.610,1.00],[0.640,1.04],[0.670,0.99],[0.700,1.03],[0.730,0.98],
[0.390,0.96],[0.430,0.94],[0.470,0.96],[0.510,0.93],[0.570,0.96],[0.630,0.94],[0.690,0.96],
[0.445,2.76],[0.465,2.74],[0.485,2.73],[0.505,2.75],[0.525,2.72],[0.545,2.74],[0.565,2.71],[0.585,2.73],
[0.455,2.58],[0.475,2.57],[0.495,2.59],[0.515,2.56],[0.535,2.58],[0.555,2.55],[0.575,2.58],[0.595,2.55],[0.615,2.57],
[0.455,2.44],[0.475,2.42],[0.495,2.44],[0.515,2.43],[0.535,2.45],[0.555,2.42],[0.575,2.44],[0.595,2.42],[0.615,2.43],
[0.455,2.29],[0.475,2.28],[0.495,2.29],[0.515,2.27],[0.535,2.29],[0.555,2.27],[0.575,2.28],[0.595,2.26],[0.615,2.28],
[0.460,2.14],[0.480,2.13],[0.500,2.14],[0.520,2.12],[0.540,2.14],[0.560,2.12],[0.580,2.13],[0.600,2.11],
[0.390,1.41],[0.410,1.40],[0.430,1.42],[0.450,1.39],[0.470,1.41],[0.490,1.39],[0.510,1.41],[0.530,1.38],[0.550,1.40],[0.570,1.38],
[0.380,1.31],[0.400,1.30],[0.420,1.32],[0.440,1.29],[0.460,1.31],[0.480,1.29],[0.500,1.31],[0.520,1.28],[0.540,1.30],[0.560,1.28],[0.580,1.30],
[0.390,1.21],[0.410,1.20],[0.430,1.22],[0.450,1.19],[0.470,1.21],[0.490,1.19],[0.510,1.21],[0.530,1.18],[0.550,1.20],[0.570,1.18],[0.590,1.20],
[0.400,1.11],[0.420,1.10],[0.440,1.12],[0.460,1.09],[0.480,1.11],[0.500,1.09],[0.520,1.11],[0.540,1.08],[0.560,1.10],[0.580,1.08],
[0.420,1.01],[0.460,1.00],[0.500,1.01],[0.540,0.99],[0.580,1.00],
[0.620,1.35],[0.650,1.25],[0.680,1.20],[0.620,1.16],[0.660,1.10],[0.700,1.12],[0.640,1.45],[0.670,1.52],[0.600,1.62],[0.550,1.72],[0.450,1.65],[0.400,1.85],[0.500,1.80],[0.620,1.92],[0.650,2.10],[0.670,2.40],[0.640,2.70],[0.480,2.00],[0.560,2.00]];

const e2_168h = [[0.093,4.14],[0.105,3.85],[0.135,3.97],[0.147,3.94],[0.153,3.91],[0.168,3.95],[0.180,3.92],[0.188,3.93],[0.190,3.81],[0.146,3.86],[0.161,3.81],[0.130,3.82],[0.170,3.75],[0.173,3.71],[0.081,3.51],[0.085,3.62],[0.105,3.54],[0.113,3.57],[0.121,3.53],[0.127,3.65],[0.129,3.59],[0.143,3.56],[0.145,3.49],[0.145,3.41],[0.157,3.54],[0.124,3.37],[0.168,3.38],[0.097,3.24],[0.110,3.23],[0.135,3.26],[0.139,3.29],[0.151,3.29],[0.154,3.24],[0.165,3.23],[0.119,3.16],[0.122,3.18],[0.167,3.15],[0.190,3.14],[0.202,3.04],[0.217,2.94],[0.203,2.75],[0.232,3.08],[0.247,3.04],[0.238,2.77],[0.262,3.16],[0.283,3.15],[0.276,2.96],[0.288,2.89],[0.260,2.66],[0.267,2.68],[0.276,2.75],[0.274,3.43],[0.274,3.85],[0.286,3.80],[0.253,3.66],[0.269,2.22],[0.285,2.30],[0.288,2.00],[0.288,1.89],[0.254,1.55],
[0.205,2.43],[0.214,2.42],[0.218,2.31],[0.221,2.23],[0.218,2.18],[0.225,2.10],[0.222,2.16],[0.201,2.21],[0.203,2.07],[0.206,1.83],[0.215,1.82],[0.220,1.88],[0.229,2.32],[0.239,2.03],[0.232,1.61],[0.230,1.45],[0.223,1.35],[0.204,1.42],[0.200,1.56],[0.198,1.62],[0.202,1.66],[0.232,1.17],[0.232,1.06],[0.235,1.06],[0.221,1.16],[0.202,0.94],[0.205,1.22],[0.214,1.12],[0.213,1.24],[0.226,1.26],[0.190,1.95],[0.194,2.53],[0.188,2.74],[0.190,2.61],[0.181,2.29],[0.185,1.73],[0.188,1.58],[0.192,1.53],[0.179,0.83],
[0.003,1.68],[0.003,1.76],[0.004,1.54],[0.003,1.43],[0.007,2.25],[0.011,1.97],[0.018,1.60],[0.026,1.82],[0.035,1.52],[0.036,1.57],[0.045,2.34],[0.045,1.27],[0.055,2.30],[0.058,1.66],[0.063,1.42],[0.065,2.25],[0.065,2.55],[0.068,2.62],[0.069,2.20],[0.065,1.91],[0.068,1.95],[0.071,2.03],[0.075,1.98],[0.077,1.96],[0.080,1.95],[0.077,1.81],[0.080,1.77],[0.083,1.79],[0.076,2.82],[0.079,2.75],[0.081,2.96],[0.085,2.85],[0.088,2.98],[0.095,3.00],[0.090,3.06],[0.100,3.04],
[0.085,2.55],[0.088,2.35],[0.090,2.45],[0.083,2.25],[0.088,2.12],[0.092,2.60],[0.095,2.70],[0.083,2.40],[0.082,2.50],[0.078,2.30],[0.182,2.45],[0.185,2.35],[0.178,2.55],[0.183,2.15],[0.186,2.05],[0.180,1.90],[0.182,1.82],[0.180,1.42],[0.185,1.30],[0.190,1.20],[0.195,1.10],[0.185,1.05],[0.195,1.00],[0.200,1.15],[0.210,1.05],[0.215,0.95],[0.185,0.95],[0.180,0.90],
[0.015,0.69],[0.022,0.69],[0.029,0.69],[0.045,0.69],[0.053,0.69],[0.056,0.69],[0.059,0.69],[0.062,0.69],[0.065,0.69],[0.068,0.69],[0.071,0.69],[0.074,0.69],[0.077,0.69],[0.080,0.69],[0.083,0.69],[0.102,0.69],[0.106,0.69],[0.114,0.69],[0.124,0.69],[0.130,0.69],[0.133,0.69],[0.135,0.69],[0.137,0.69],[0.139,0.69],[0.141,0.69],[0.143,0.69],[0.145,0.69],[0.147,0.69],[0.149,0.69],[0.151,0.69],[0.153,0.69],[0.156,0.69],[0.159,0.69],[0.162,0.69],[0.165,0.69],[0.169,0.69],[0.180,0.69],[0.190,0.69],[0.195,0.69],[0.200,0.69],[0.210,0.69],[0.215,0.69],[0.220,0.69],[0.225,0.69],
[0.065,1.42],[0.070,1.38],[0.075,1.43],[0.080,1.36],[0.085,1.41],[0.090,1.34],[0.095,1.40],
[0.066,1.30],[0.070,1.25],[0.074,1.31],[0.078,1.24],[0.082,1.29],[0.086,1.22],[0.090,1.28],[0.094,1.21],[0.098,1.27],
[0.065,1.18],[0.069,1.13],[0.073,1.19],[0.077,1.12],[0.081,1.17],[0.085,1.10],[0.089,1.16],[0.093,1.09],[0.097,1.15],
[0.066,1.05],[0.070,1.01],[0.075,1.06],[0.080,0.99],[0.085,1.04],[0.090,0.98],[0.095,1.02],[0.100,0.96],[0.105,0.92],[0.095,0.90],
[0.100,2.90],[0.107,2.85],[0.113,2.92],[0.120,2.86],[0.128,2.90],[0.136,2.84],[0.143,2.89],[0.150,2.83],[0.158,2.88],[0.165,2.82],
[0.100,2.78],[0.105,2.73],[0.110,2.79],[0.115,2.72],[0.120,2.77],[0.125,2.70],[0.130,2.76],[0.135,2.71],[0.140,2.78],[0.145,2.72],[0.150,2.77],[0.155,2.70],[0.160,2.75],[0.166,2.69],[0.172,2.74],
[0.102,2.65],[0.107,2.60],[0.112,2.66],[0.117,2.59],[0.122,2.64],[0.127,2.58],[0.132,2.63],[0.137,2.57],[0.142,2.64],[0.147,2.58],[0.152,2.63],[0.157,2.57],[0.162,2.62],[0.167,2.56],[0.173,2.60],
[0.104,2.52],[0.109,2.47],[0.114,2.53],[0.119,2.46],[0.124,2.51],[0.129,2.45],[0.134,2.50],[0.139,2.44],[0.144,2.51],[0.149,2.45],[0.154,2.50],[0.159,2.43],[0.164,2.48],[0.170,2.42],[0.176,2.47],
[0.106,2.39],[0.111,2.34],[0.116,2.40],[0.121,2.33],[0.126,2.38],[0.131,2.32],[0.136,2.37],[0.141,2.31],[0.146,2.38],[0.151,2.32],[0.156,2.37],[0.161,2.30],[0.166,2.35],[0.172,2.29],
[0.105,2.26],[0.110,2.21],[0.115,2.27],[0.120,2.20],[0.125,2.25],[0.130,2.19],[0.135,2.24],[0.140,2.18],[0.145,2.25],[0.150,2.19],[0.155,2.24],[0.160,2.17],[0.165,2.22],[0.171,2.16],
[0.104,2.13],[0.109,2.08],[0.114,2.14],[0.119,2.07],[0.124,2.12],[0.129,2.06],[0.134,2.11],[0.139,2.05],[0.144,2.12],[0.149,2.06],[0.154,2.11],[0.159,2.04],[0.165,2.09],[0.172,2.03],
[0.103,2.00],[0.108,1.95],[0.113,2.01],[0.118,1.94],[0.123,1.99],[0.128,1.93],[0.133,1.98],[0.138,1.92],[0.143,1.99],[0.148,1.93],[0.153,1.98],[0.158,1.91],[0.164,1.96],[0.170,1.90],
[0.105,1.87],[0.111,1.82],[0.117,1.88],[0.123,1.81],[0.129,1.86],[0.135,1.80],[0.141,1.85],[0.147,1.79],[0.153,1.84],[0.160,1.78],[0.167,1.83],
[0.104,1.74],[0.110,1.69],[0.116,1.75],[0.122,1.68],[0.128,1.73],[0.134,1.67],[0.140,1.72],[0.146,1.66],[0.152,1.71],[0.159,1.65],[0.166,1.70],
[0.103,1.61],[0.109,1.56],[0.115,1.62],[0.121,1.55],[0.127,1.60],[0.133,1.54],[0.139,1.59],[0.145,1.53],[0.151,1.58],[0.158,1.52],[0.165,1.57],
[0.104,1.48],[0.109,1.43],[0.114,1.49],[0.119,1.42],[0.124,1.47],[0.129,1.41],[0.134,1.46],[0.139,1.40],[0.144,1.47],[0.149,1.41],[0.154,1.46],[0.159,1.39],[0.164,1.44],[0.170,1.38],[0.176,1.43],
[0.106,1.35],[0.111,1.30],[0.116,1.36],[0.121,1.29],[0.126,1.34],[0.131,1.28],[0.136,1.33],[0.141,1.27],[0.146,1.34],[0.151,1.28],[0.156,1.33],[0.161,1.26],[0.166,1.31],[0.172,1.25],[0.178,1.30],
[0.108,1.22],[0.113,1.17],[0.118,1.23],[0.123,1.16],[0.128,1.21],[0.133,1.15],[0.138,1.20],[0.143,1.14],[0.148,1.21],[0.153,1.15],[0.158,1.20],[0.163,1.13],[0.168,1.18],[0.174,1.12],[0.180,1.17],
[0.110,1.09],[0.115,1.04],[0.120,1.10],[0.125,1.03],[0.130,1.08],[0.135,1.02],[0.140,1.07],[0.145,1.01],[0.150,1.08],[0.155,1.02],[0.160,1.07],[0.165,1.00],[0.170,1.05],[0.176,0.99],
[0.120,0.96],[0.130,0.93],[0.138,0.88],[0.142,0.83],[0.135,0.80],[0.140,0.76],[0.145,0.92],[0.155,0.95],[0.165,0.94],
[0.112,2.57],[0.122,2.55],[0.132,2.56],[0.142,2.54],[0.152,2.56],[0.162,2.55],
[0.113,2.44],[0.123,2.42],[0.133,2.43],[0.143,2.41],[0.153,2.43],[0.163,2.42],
[0.113,2.31],[0.123,2.29],[0.133,2.30],[0.143,2.28],[0.153,2.30],[0.163,2.29],
[0.112,2.18],[0.122,2.16],[0.132,2.17],[0.142,2.15],[0.152,2.17],[0.162,2.16],
[0.111,2.05],[0.121,2.03],[0.131,2.04],[0.141,2.02],[0.151,2.04],[0.161,2.03],
[0.114,1.92],[0.124,1.90],[0.134,1.91],[0.144,1.89],[0.154,1.91],
[0.112,1.45],[0.122,1.44],[0.132,1.45],[0.142,1.43],[0.152,1.44],[0.162,1.42],[0.172,1.44],
[0.113,1.32],[0.123,1.31],[0.133,1.32],[0.143,1.30],[0.153,1.31],[0.163,1.29],[0.173,1.31],
[0.115,1.19],[0.125,1.18],[0.135,1.19],[0.145,1.17],[0.155,1.18],[0.165,1.16],[0.175,1.18],
[0.117,1.06],[0.127,1.05],[0.137,1.06],[0.147,1.04],[0.157,1.05],[0.167,1.03],
[0.118,1.58],[0.130,1.57],[0.142,1.58],[0.154,1.56],[0.120,1.70],[0.133,1.71],[0.146,1.69],[0.158,1.70],
[0.072,1.20],[0.080,1.22],[0.088,1.18],[0.076,1.08],[0.084,1.06],[0.092,1.10]];

const panelData = [e1_12h, e1_24h, e1_168h, e2_12h, e2_24h, e2_168h];

// ---------- LAYOUT (pixel geometry of the plot boxes) ----------
const W = 1008, H = 840;
const colPx = [[73.3, 337], [408.3, 671.7], [745, 1006.7]];
const rowPx = [[47.7, 310.7], [449.5, 712.5]];
const xRanges = [[0.0053, 0.2386], [0.147, 0.877], [-0.0091, 0.2774], [-0.0098, 0.2499], [0.139, 1.046], [-0.0125, 0.3146]];
const yRanges = [[0.573, 4.307], [0.555, 4.28]];
const corWidth = [83, 97, 96, 98, 97, 84];

const FONT = "Liberation Sans, Arial, Helvetica, sans-serif";
const traces = [];
const layout = {
  width: W, height: H, margin: {l: 0, r: 0, t: 0, b: 0},
  paper_bgcolor: "#fff", plot_bgcolor: "#fff", showlegend: false,
  font: {family: FONT, color: "#000", size: 12},
  annotations: []
};

for (let i = 0; i < 6; i++) {
  const r = Math.floor(i / 3), c = i % 3;
  const sfx = i === 0 ? "" : String(i + 1);
  const xa = "x" + sfx, ya = "y" + sfx;
  const pts = panelData[i];
  traces.push({
    type: "scatter", mode: "markers", xaxis: xa, yaxis: ya,
    x: pts.map(p => p[0]), y: pts.map(p => p[1]),
    marker: {symbol: "circle-open", size: 7, color: "rgba(0,0,0,0.85)", line: {width: 1.05}},
    hoverinfo: "skip"
  });
  const xr = xRanges[i];
  traces.push({
    type: "scatter", mode: "lines", xaxis: xa, yaxis: ya,
    x: [xr[0], xr[1]], y: [fitIntercept[i] + fitSlope[i] * xr[0], fitIntercept[i] + fitSlope[i] * xr[1]],
    line: {color: "#ff0000", width: 1.1}, hoverinfo: "skip"
  });
  const common = {showline: true, mirror: true, linecolor: "#000", linewidth: 1, showgrid: false, zeroline: false,
    ticks: "outside", ticklen: 7, tickwidth: 1, tickcolor: "#000", tickfont: {family: FONT, size: 12, color: "#222"}};
  layout["xaxis" + sfx] = Object.assign({}, common, {
    domain: [colPx[c][0] / W, colPx[c][1] / W], range: xr, anchor: ya,
    tickmode: "array", tickvals: xTicks[i], ticktext: xTicks[i].map(v => (i === 1 || i === 4) ? v.toFixed(1) : v.toFixed(2)),
    ticklabelstandoff: 9
  });
  layout["yaxis" + sfx] = Object.assign({}, common, {
    domain: [1 - rowPx[r][1] / H, 1 - rowPx[r][0] / H], range: yRanges[r], anchor: xa,
    tickmode: "array", tickvals: yTicks, ticktext: yTicks.map(v => v.toFixed(1)), tickangle: -90,
    ticklabelstandoff: 6
  });
  layout.annotations.push({xref: "paper", yref: "paper", x: (colPx[c][0] + colPx[c][1]) / 2 / W,
    y: 1 - (rowPx[r][1] + 55) / H, text: xTitles[i], showarrow: false, xanchor: "center", yanchor: "middle",
    font: {family: FONT, size: 13, color: "#111"}});
  layout.annotations.push({xref: "paper", yref: "paper", x: (colPx[c][0] - 56.5) / W,
    y: 1 - (rowPx[r][0] + rowPx[r][1]) / 2 / H, text: yTitle, textangle: -90, showarrow: false,
    xanchor: "center", yanchor: "middle", font: {family: FONT, size: 13, color: "#111"}});
  layout.annotations.push({xref: xa + " domain", yref: ya + " domain", x: 1, y: 1, xanchor: "right", yanchor: "top",
    text: corLabels[i], showarrow: false, width: corWidth[i] - 4, height: 20, bgcolor: "#fff",
    bordercolor: "#000", borderwidth: 1, borderpad: 1, font: {family: FONT, size: 12, color: "#111"}});
}
layout.annotations.push({xref: "paper", yref: "paper", x: 0.5, y: 1 - 22 / H, text: panelTitles[0], showarrow: false,
  xanchor: "center", yanchor: "middle", font: {family: FONT, size: 27, color: "#000"}});
layout.annotations.push({xref: "paper", yref: "paper", x: 0.5, y: 1 - 424 / H, text: panelTitles[1], showarrow: false,
  xanchor: "center", yanchor: "middle", font: {family: FONT, size: 27, color: "#000"}});
layout.annotations.push({xref: "paper", yref: "paper", x: 0.5, y: 1 - 822 / H, text: sigNote, showarrow: false,
  xanchor: "center", yanchor: "middle", font: {family: FONT, size: 13, color: "#111"}});

Plotly.newPlot("chart", traces, layout, {displayModeBar: false, staticPlot: true});
</script>
</body></html>
